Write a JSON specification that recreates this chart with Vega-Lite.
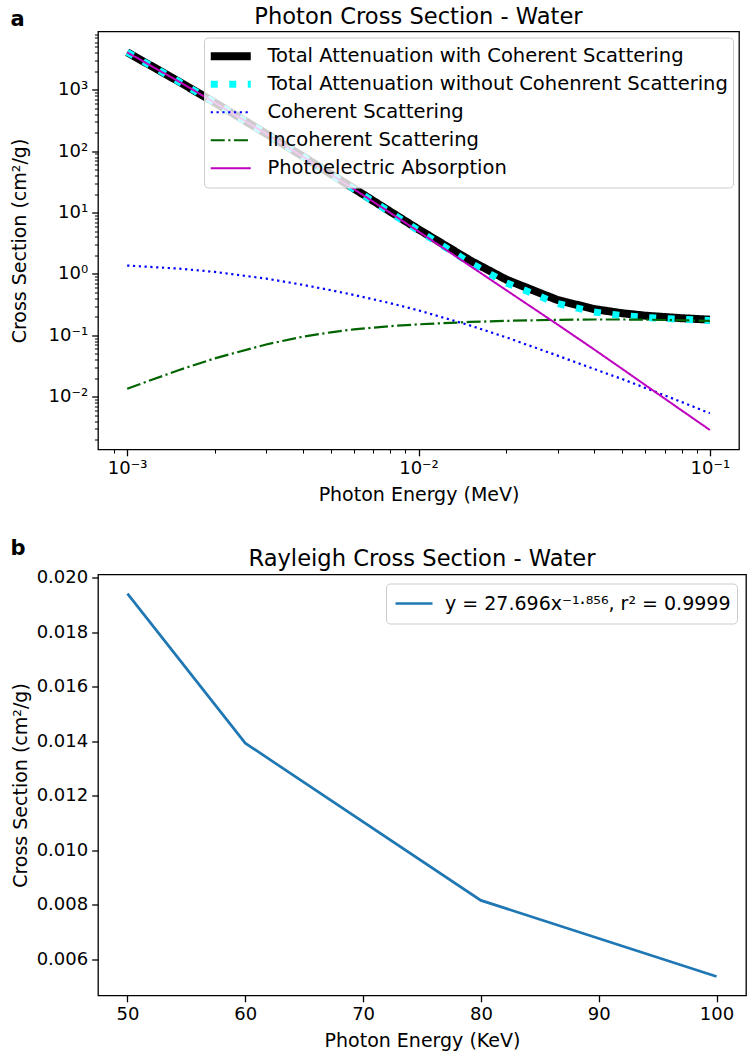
{
  "$schema": "https://vega.github.io/schema/vega-lite/v6.json",
  "padding": {"left": 9, "right": 3, "top": 4.5, "bottom": 3},
  "background": "white",
  "spacing": 31,
  "resolve": {"scale": {"color": "independent", "strokeDash": "independent"}},
  "config": {
    "font": "DejaVu Sans",
    "view": {"stroke": "black", "strokeWidth": 1.3},
    "axis": {"grid": false, "domain": false, "labelFont": "DejaVu Sans", "labelFontSize": 18, "labelColor": "black", "titleFont": "DejaVu Sans", "titleFontSize": 19, "titleFontWeight": "normal", "titleColor": "black", "tickColor": "black", "tickWidth": 1.3, "tickSize": 6.3, "labelPadding": 4, "labelOverlap": false, "labelFlush": false},
    "title": {"font": "DejaVu Sans", "fontSize": 22.6, "fontWeight": "normal", "color": "black"}
  },
  "datasets": {
    "a": [
      {"s": "Total Attenuation with Coherent Scattering", "E": 0.001, "v": 4077.4},
      {"s": "Total Attenuation with Coherent Scattering", "E": 0.0015, "v": 1373.2},
      {"s": "Total Attenuation with Coherent Scattering", "E": 0.002, "v": 617.1},
      {"s": "Total Attenuation with Coherent Scattering", "E": 0.003, "v": 192.9},
      {"s": "Total Attenuation with Coherent Scattering", "E": 0.004, "v": 82.76},
      {"s": "Total Attenuation with Coherent Scattering", "E": 0.005, "v": 42.56},
      {"s": "Total Attenuation with Coherent Scattering", "E": 0.006, "v": 24.64},
      {"s": "Total Attenuation with Coherent Scattering", "E": 0.008, "v": 10.37},
      {"s": "Total Attenuation with Coherent Scattering", "E": 0.01, "v": 5.33},
      {"s": "Total Attenuation with Coherent Scattering", "E": 0.015, "v": 1.67},
      {"s": "Total Attenuation with Coherent Scattering", "E": 0.02, "v": 0.809},
      {"s": "Total Attenuation with Coherent Scattering", "E": 0.03, "v": 0.376},
      {"s": "Total Attenuation with Coherent Scattering", "E": 0.04, "v": 0.268},
      {"s": "Total Attenuation with Coherent Scattering", "E": 0.05, "v": 0.229},
      {"s": "Total Attenuation with Coherent Scattering", "E": 0.06, "v": 0.209},
      {"s": "Total Attenuation with Coherent Scattering", "E": 0.08, "v": 0.19},
      {"s": "Total Attenuation with Coherent Scattering", "E": 0.1, "v": 0.18},
      {"s": "Total Attenuation without Cohenrent Scattering", "E": 0.001, "v": 4076.0},
      {"s": "Total Attenuation without Cohenrent Scattering", "E": 0.0015, "v": 1372.0},
      {"s": "Total Attenuation without Cohenrent Scattering", "E": 0.002, "v": 616.0},
      {"s": "Total Attenuation without Cohenrent Scattering", "E": 0.003, "v": 192.1},
      {"s": "Total Attenuation without Cohenrent Scattering", "E": 0.004, "v": 82.09},
      {"s": "Total Attenuation without Cohenrent Scattering", "E": 0.005, "v": 42.01},
      {"s": "Total Attenuation without Cohenrent Scattering", "E": 0.006, "v": 24.19},
      {"s": "Total Attenuation without Cohenrent Scattering", "E": 0.008, "v": 10.03},
      {"s": "Total Attenuation without Cohenrent Scattering", "E": 0.01, "v": 5.07},
      {"s": "Total Attenuation without Cohenrent Scattering", "E": 0.015, "v": 1.525},
      {"s": "Total Attenuation without Cohenrent Scattering", "E": 0.02, "v": 0.716},
      {"s": "Total Attenuation without Cohenrent Scattering", "E": 0.03, "v": 0.329},
      {"s": "Total Attenuation without Cohenrent Scattering", "E": 0.04, "v": 0.24},
      {"s": "Total Attenuation without Cohenrent Scattering", "E": 0.05, "v": 0.209},
      {"s": "Total Attenuation without Cohenrent Scattering", "E": 0.06, "v": 0.1955},
      {"s": "Total Attenuation without Cohenrent Scattering", "E": 0.08, "v": 0.182},
      {"s": "Total Attenuation without Cohenrent Scattering", "E": 0.1, "v": 0.175},
      {"s": "Coherent Scattering", "E": 0.001, "v": 1.37},
      {"s": "Coherent Scattering", "E": 0.0015, "v": 1.22},
      {"s": "Coherent Scattering", "E": 0.002, "v": 1.08},
      {"s": "Coherent Scattering", "E": 0.003, "v": 0.84},
      {"s": "Coherent Scattering", "E": 0.004, "v": 0.665},
      {"s": "Coherent Scattering", "E": 0.005, "v": 0.543},
      {"s": "Coherent Scattering", "E": 0.006, "v": 0.455},
      {"s": "Coherent Scattering", "E": 0.008, "v": 0.334},
      {"s": "Coherent Scattering", "E": 0.01, "v": 0.255},
      {"s": "Coherent Scattering", "E": 0.015, "v": 0.145},
      {"s": "Coherent Scattering", "E": 0.02, "v": 0.0927},
      {"s": "Coherent Scattering", "E": 0.03, "v": 0.0467},
      {"s": "Coherent Scattering", "E": 0.04, "v": 0.0283},
      {"s": "Coherent Scattering", "E": 0.05, "v": 0.0194},
      {"s": "Coherent Scattering", "E": 0.06, "v": 0.0139},
      {"s": "Coherent Scattering", "E": 0.08, "v": 0.0082},
      {"s": "Coherent Scattering", "E": 0.1, "v": 0.00537},
      {"s": "Incoherent Scattering", "E": 0.001, "v": 0.0135},
      {"s": "Incoherent Scattering", "E": 0.0015, "v": 0.027},
      {"s": "Incoherent Scattering", "E": 0.002, "v": 0.0422},
      {"s": "Incoherent Scattering", "E": 0.003, "v": 0.071},
      {"s": "Incoherent Scattering", "E": 0.004, "v": 0.0948},
      {"s": "Incoherent Scattering", "E": 0.005, "v": 0.112},
      {"s": "Incoherent Scattering", "E": 0.006, "v": 0.125},
      {"s": "Incoherent Scattering", "E": 0.008, "v": 0.141},
      {"s": "Incoherent Scattering", "E": 0.01, "v": 0.151},
      {"s": "Incoherent Scattering", "E": 0.015, "v": 0.165},
      {"s": "Incoherent Scattering", "E": 0.02, "v": 0.172},
      {"s": "Incoherent Scattering", "E": 0.03, "v": 0.179},
      {"s": "Incoherent Scattering", "E": 0.04, "v": 0.181},
      {"s": "Incoherent Scattering", "E": 0.05, "v": 0.181},
      {"s": "Incoherent Scattering", "E": 0.06, "v": 0.18},
      {"s": "Incoherent Scattering", "E": 0.08, "v": 0.176},
      {"s": "Incoherent Scattering", "E": 0.1, "v": 0.172},
      {"s": "Photoelectric Absorption", "E": 0.001, "v": 4076},
      {"s": "Photoelectric Absorption", "E": 0.0015, "v": 1372},
      {"s": "Photoelectric Absorption", "E": 0.002, "v": 616},
      {"s": "Photoelectric Absorption", "E": 0.003, "v": 192},
      {"s": "Photoelectric Absorption", "E": 0.004, "v": 82.0},
      {"s": "Photoelectric Absorption", "E": 0.005, "v": 41.9},
      {"s": "Photoelectric Absorption", "E": 0.006, "v": 24.06},
      {"s": "Photoelectric Absorption", "E": 0.008, "v": 9.89},
      {"s": "Photoelectric Absorption", "E": 0.01, "v": 4.92},
      {"s": "Photoelectric Absorption", "E": 0.015, "v": 1.36},
      {"s": "Photoelectric Absorption", "E": 0.02, "v": 0.544},
      {"s": "Photoelectric Absorption", "E": 0.03, "v": 0.15},
      {"s": "Photoelectric Absorption", "E": 0.04, "v": 0.0592},
      {"s": "Photoelectric Absorption", "E": 0.05, "v": 0.0284},
      {"s": "Photoelectric Absorption", "E": 0.06, "v": 0.0155},
      {"s": "Photoelectric Absorption", "E": 0.08, "v": 0.00598},
      {"s": "Photoelectric Absorption", "E": 0.1, "v": 0.00287}
    ],
    "b": [
      {"s": "y = 27.696x⁻¹·⁸⁵⁶, r² = 0.9999", "E": 50, "v": 0.01942},
      {"s": "y = 27.696x⁻¹·⁸⁵⁶, r² = 0.9999", "E": 60, "v": 0.01393},
      {"s": "y = 27.696x⁻¹·⁸⁵⁶, r² = 0.9999", "E": 80, "v": 0.00816},
      {"s": "y = 27.696x⁻¹·⁸⁵⁶, r² = 0.9999", "E": 100, "v": 0.00537}
    ]
  },
  "vconcat": [
    {
      "width": 641,
      "height": 418,
      "data": {"name": "a"},
      "title": {"text": "Photon Cross Section - Water", "anchor": "middle", "offset": -20},
      "resolve": {"axis": {"x": "independent"}},
      "layer": [
        {
          "mark": {"type": "line", "strokeCap": "butt", "clip": true},
          "encoding": {
            "x": {"field": "E", "type": "quantitative",
              "scale": {"type": "log", "domain": [0.000794, 0.1259], "nice": false},
              "axis": {"title": "Photon Energy (MeV)", "titlePadding": 8,
                "values": [0.0009, 0.001, 0.002, 0.003, 0.004, 0.005, 0.006, 0.007, 0.008, 0.009, 0.01, 0.02, 0.03, 0.04, 0.05, 0.06, 0.07, 0.08, 0.09, 0.1],
                "labelExpr": "datum.value == 0.001 ? '10⁻³' : datum.value == 0.01 ? '10⁻²' : datum.value == 0.1 ? '10⁻¹' : ''",
                "tickSize": {"condition": {"test": "datum.value == 0.001 || datum.value == 0.01 || datum.value == 0.1", "value": 6.3}, "value": 3.6},
                "tickWidth": {"condition": {"test": "datum.value == 0.001 || datum.value == 0.01 || datum.value == 0.1", "value": 1.3}, "value": 1}}},
            "y": {"field": "v", "type": "quantitative",
              "scale": {"type": "log", "domain": [0.00138, 8900], "nice": false},
              "axis": {"title": "Cross Section (cm²/g)", "titlePadding": 19,
                "values": [0.002, 0.003, 0.004, 0.005, 0.006, 0.007, 0.008, 0.009, 0.01, 0.02, 0.03, 0.04, 0.05, 0.06, 0.07, 0.08, 0.09, 0.1, 0.2, 0.3, 0.4, 0.5, 0.6, 0.7, 0.8, 0.9, 1, 2, 3, 4, 5, 6, 7, 8, 9, 10, 20, 30, 40, 50, 60, 70, 80, 90, 100, 200, 300, 400, 500, 600, 700, 800, 900, 1000, 2000, 3000, 4000, 5000, 6000, 7000, 8000],
                "labelExpr": "datum.value == 1000 ? '10³' : datum.value == 100 ? '10²' : datum.value == 10 ? '10¹' : datum.value == 1 ? '10⁰' : datum.value == 0.1 ? '10⁻¹' : datum.value == 0.01 ? '10⁻²' : ''",
                "tickSize": {"condition": {"test": "datum.value == 0.01 || datum.value == 0.1 || datum.value == 1 || datum.value == 10 || datum.value == 100 || datum.value == 1000", "value": 6.3}, "value": 3.6},
                "tickWidth": {"condition": {"test": "datum.value == 0.01 || datum.value == 0.1 || datum.value == 1 || datum.value == 10 || datum.value == 100 || datum.value == 1000", "value": 1.3}, "value": 1}}},
            "color": {"field": "s", "type": "nominal",
              "scale": {"domain": ["Total Attenuation with Coherent Scattering", "Total Attenuation without Cohenrent Scattering", "Coherent Scattering", "Incoherent Scattering", "Photoelectric Absorption"],
                "range": ["#000000", "#00ffff", "#0000ff", "#006400", "#bf00bf"]},
              "legend": {"title": null, "orient": "top-right", "offset": 6, "symbolType": "stroke", "symbolSize": 1600, "symbolStrokeWidth": 2.2, "symbolOffset": 12,
                "labelFont": "DejaVu Sans", "labelFontSize": 19.5, "labelColor": "black", "labelOffset": 27, "clipHeight": 27.5, "rowPadding": 0, "padding": 5,
                "fillColor": "rgba(255,255,255,0.8)", "strokeColor": "#cccccc", "cornerRadius": 4, "labelLimit": 700,
                "encode": {"symbols": {"update": {"strokeWidth": {"signal": "datum.value === 'Total Attenuation with Coherent Scattering' ? 8 : datum.value === 'Total Attenuation without Cohenrent Scattering' ? 7 : datum.value === 'Photoelectric Absorption' ? 2 : 2.2"}}}}}},
            "strokeDash": {"field": "s", "type": "nominal",
              "scale": {"domain": ["Total Attenuation with Coherent Scattering", "Total Attenuation without Cohenrent Scattering", "Coherent Scattering", "Incoherent Scattering", "Photoelectric Absorption"],
                "range": [[1, 0], [7, 11.5], [2.2, 3.6], [14, 3.5, 2.2, 3.5], [1, 0]]}},
            "strokeWidth": {"condition": [
              {"test": "datum.s === 'Total Attenuation with Coherent Scattering'", "value": 8},
              {"test": "datum.s === 'Total Attenuation without Cohenrent Scattering'", "value": 7},
              {"test": "datum.s === 'Photoelectric Absorption'", "value": 2}], "value": 2.2}
          }
        },
        {
          "mark": {"type": "point", "opacity": 0},
          "encoding": {
            "x": {"field": "E", "type": "quantitative",
              "axis": {"orient": "top", "title": "a", "labels": false, "ticks": false, "domain": false,
                "titleX": -88, "titleY": -12, "titleAlign": "left", "titleBaseline": "middle", "titleAngle": 0,
                "titleFontWeight": "bold", "titleFontSize": 21}},
            "y": {"field": "v", "type": "quantitative"}
          }
        }
      ]
    },
    {
      "width": 648,
      "height": 421,
      "data": {"name": "b"},
      "title": {"text": "Rayleigh Cross Section - Water", "anchor": "middle", "offset": -33},
      "resolve": {"axis": {"x": "independent"}},
      "layer": [
        {
          "mark": {"type": "line", "strokeWidth": 2.7, "clip": true},
          "encoding": {
            "x": {"field": "E", "type": "quantitative",
              "scale": {"domain": [47.5, 102.5], "nice": false, "zero": false},
              "axis": {"title": "Photon Energy (KeV)", "titlePadding": 8, "values": [50, 60, 70, 80, 90, 100]}},
            "y": {"field": "v", "type": "quantitative",
              "scale": {"domain": [0.00467, 0.02012], "nice": false, "zero": false},
              "axis": {"title": "Cross Section (cm²/g)", "titlePadding": 6, "values": [0.006, 0.008, 0.01, 0.012, 0.014, 0.016, 0.018, 0.02], "format": ".3f"}},
            "color": {"field": "s", "type": "nominal",
              "scale": {"range": ["#1f77b4"]},
              "legend": {"title": null, "orient": "top-right", "offset": 9, "symbolType": "stroke", "symbolSize": 1369, "symbolStrokeWidth": 2.7, "symbolOffset": 2,
                "labelFont": "DejaVu Sans", "labelFontSize": 19, "labelColor": "black", "labelOffset": 11, "clipHeight": 28, "padding": 6,
                "fillColor": "rgba(255,255,255,0.8)", "strokeColor": "#cccccc", "cornerRadius": 4, "labelLimit": 700}}
          }
        },
        {
          "mark": {"type": "point", "opacity": 0},
          "encoding": {
            "x": {"field": "E", "type": "quantitative",
              "axis": {"orient": "top", "title": "b", "labels": false, "ticks": false, "domain": false,
                "titleX": -88, "titleY": -26, "titleAlign": "left", "titleBaseline": "middle", "titleAngle": 0,
                "titleFontWeight": "bold", "titleFontSize": 21}},
            "y": {"field": "v", "type": "quantitative"}
          }
        }
      ]
    }
  ]
}
